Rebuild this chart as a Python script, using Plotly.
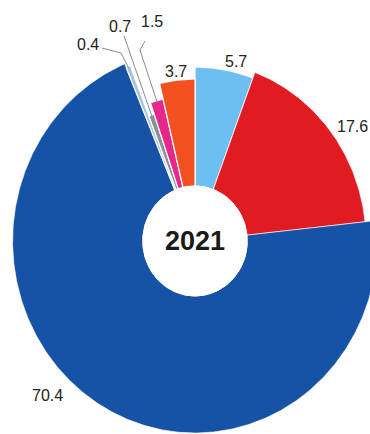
import numpy as np
import plotly.graph_objects as go

# Percentage shares, listed clockwise from 12 o'clock
shares = [5.7, 17.6, 70.4, 0.4, 0.7, 1.5, 3.7]
value_labels = [f"{v:.1f}" for v in shares]
center_label = "2021"

# ---- styling -------------------------------------------------------------
colors = ["#6cbff0", "#e01b22", "#1652a6", "#a9c3dc", "#8a8f96", "#e6288a", "#f4501f"]
outer_r = [174, 180, 192, 188, 134, 146, 162]   # ring depth per segment (px)
edge_w = [1.2, 0.6, 0.6, 1.2, 1.2, 1.2, 1.2]     # white separator width per segment
inner_r = 55                                     # hole radius (px)
x_squash = 0.95                                  # slight horizontal compression
W, H = 370, 434
CX, CY = 195, 241                                # ring centre in page pixels

# label anchors in page pixels
label_px = [(236, 61), (352, 126), (47, 395), (88, 44), (120, 26), (152, 21), (176, 71)]
# elbow points of the leader lines for the thin segments (page pixels)
leader_px = {3: [(102, 48), (121, 53)], 4: [(124, 36)], 5: [(145, 41), (140, 50)]}


def to_axis(x, y):
    return ((x - CX) / x_squash, CY - y)


def polar_xy(r, theta_deg):
    t = np.radians(theta_deg)
    return r * np.sin(t), r * np.cos(t)


fig = go.Figure()

total = sum(shares)
edges = np.concatenate([[0], np.cumsum(shares)]) / total * 360.0

for i, v in enumerate(shares):
    a0, a1 = edges[i], edges[i + 1]
    th = np.linspace(a0, a1, max(8, int((a1 - a0) * 2)))
    ox, oy = polar_xy(outer_r[i], th)
    ix, iy = polar_xy(inner_r, th[::-1])
    xs = np.concatenate([ox, ix, ox[:1]])
    ys = np.concatenate([oy, iy, oy[:1]])
    fig.add_trace(go.Scatter(
        x=xs, y=ys, mode="lines", fill="toself",
        fillcolor=colors[i], line=dict(color="white", width=edge_w[i]),
        hoverinfo="skip", showlegend=False,
    ))

# leader lines to the thin segments
for i, pts in leader_px.items():
    mid = (edges[i] + edges[i + 1]) / 2
    ex, ey = polar_xy(outer_r[i] - 2, mid)
    ax = [to_axis(*p) for p in pts]
    fig.add_trace(go.Scatter(
        x=[p[0] for p in ax] + [ex], y=[p[1] for p in ax] + [ey],
        mode="lines", line=dict(color="#8c8c8c", width=1),
        hoverinfo="skip", showlegend=False,
    ))

# value labels
for i, t in enumerate(value_labels):
    x, y = to_axis(*label_px[i])
    fig.add_annotation(x=x, y=y, text=t, showarrow=False,
                       font=dict(family="Liberation Sans, Arial, sans-serif",
                                 size=16, color="#222222"))

# white hole and year in the middle
hx, hy = polar_xy(inner_r, np.linspace(0, 360, 181))
fig.add_trace(go.Scatter(x=hx, y=hy, mode="lines", fill="toself",
                         fillcolor="white", line=dict(color="white", width=1),
                         hoverinfo="skip", showlegend=False))
fig.add_annotation(x=0, y=0, text=f"<b>{center_label}</b>", showarrow=False,
                   font=dict(family="Liberation Sans, Arial, sans-serif",
                             size=27, color="#1a1a1a"))

fig.update_layout(
    width=W, height=H,
    margin=dict(l=0, r=0, t=0, b=0),
    paper_bgcolor="white", plot_bgcolor="white",
    xaxis=dict(range=[(0 - CX) / x_squash, (W - CX) / x_squash],
               visible=False, fixedrange=True),
    yaxis=dict(range=[CY - H, CY], visible=False, fixedrange=True),
)

fig.write_html("out.html")
